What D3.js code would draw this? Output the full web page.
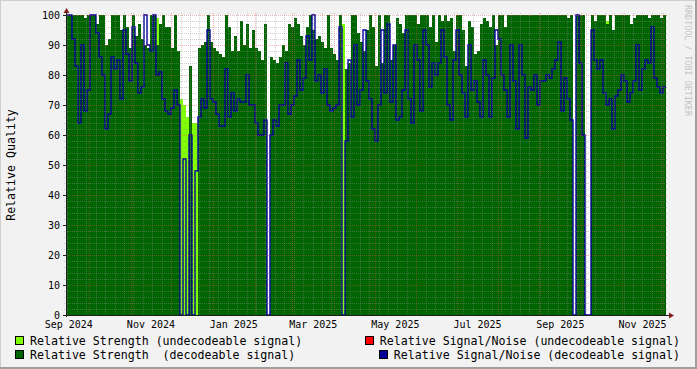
<!DOCTYPE html>
<html><head><meta charset="utf-8">
<script src="https://cdn.jsdelivr.net/npm/d3@7"></script>
<style>html,body{margin:0;padding:0;background:#F2F2F2;overflow:hidden} svg{display:block} text{white-space:pre}</style>
</head><body>
<svg id="c" width="697" height="369"></svg>
<script>
// ---- data (one sample per ~2.2 days) ----
const strengthDecodeable = [
100,100,100,100,100,100,99,100,100,100,
97,100,100,90,92,100,100,100,95,100,
96,89,100,93,97,92,90,89,100,100,
90,97,100,96,96,89,100,88,0,0,
0,83,0,0,89,90,91,100,91,89,
88,87,86,100,96,88,93,88,98,90,
97,89,95,89,88,85,97,0,86,85,
84,86,90,88,97,96,99,97,93,90,
96,100,95,92,93,91,89,100,89,87,
85,100,0,82,84,100,100,94,91,88,
95,100,96,83,100,84,100,100,85,90,
99,97,94,100,100,100,100,97,100,100,
100,96,100,91,100,98,100,98,99,88,
100,100,95,83,98,96,87,88,97,99,
98,96,100,90,100,100,96,100,100,100,
100,100,100,100,100,100,100,100,100,100,
100,100,100,100,100,100,100,99,100,0,
100,100,100,0,0,100,98,100,100,100,
97,100,95,100,100,100,100,100,97,99,
100,100,100,100,99,100,100,100,99,100];

const strengthUndecodeable = [
0,0,0,0,0,0,0,0,0,0,
0,0,0,0,0,0,0,0,0,0,
0,0,0,0,0,0,0,0,0,0,
99,0,0,0,0,0,0,0,72,70,
66,73,64,64,0,0,0,0,0,0,
0,0,0,0,0,0,0,0,0,0,
0,0,0,0,0,0,0,0,0,0,
0,0,0,0,0,0,0,0,0,0,
0,0,0,0,0,0,0,0,0,0,
0,0,97,0,0,0,0,0,0,0,
0,0,0,0,0,0,0,0,0,0,
0,0,0,0,0,0,0,0,0,0,
0,0,0,0,0,0,0,0,0,0,
0,0,0,0,0,0,0,0,0,0,
0,0,0,0,0,0,0,0,0,0,
0,0,0,0,0,0,0,0,0,0,
0,0,0,0,0,0,0,0,0,0,
0,0,0,0,0,0,0,0,0,0,
98,0,0,0,0,0,0,0,0,0,
0,0,0,0,0,0,0,0,0,0];

const snrDecodeable = [
100,100,92,83,64,90,68,75,100,100,
94,86,80,62,67,86,82,85,72,95,
87,78,96,84,74,76,100,90,88,100,
80,81,72,68,67,69,75,70,0,52,
0,60,0,48,66,72,69,95,72,71,
67,63,63,82,66,74,68,72,71,71,
80,70,70,64,60,60,65,0,60,65,
63,70,70,84,67,70,73,85,75,79,
93,85,100,78,80,74,82,70,68,69,
70,96,0,58,85,66,90,70,75,95,
78,72,62,58,70,95,74,97,71,90,
65,66,75,95,72,64,90,85,68,95,
90,76,84,80,84,95,86,70,65,85,
95,80,74,66,90,75,78,71,66,85,
80,66,79,95,92,80,75,66,90,78,
62,90,80,59,76,75,80,70,78,78,
80,79,82,85,91,68,79,72,65,0,
100,84,60,0,0,95,85,82,85,74,
70,72,62,73,75,80,78,71,74,78,
90,75,82,85,84,96,79,76,74,76];

const snrUndecodeable = [];   // nothing visible in the picture

const yTickValues = [0,10,20,30,40,50,60,70,80,90,100];
const monthLabels = ["Sep 2024","Nov 2024","Jan 2025","Mar 2025","May 2025","Jul 2025","Sep 2025","Nov 2025"];
const monthLabelStarts = ["2024-09-01","2024-11-01","2025-01-01","2025-03-01","2025-05-01","2025-07-01","2025-09-01","2025-11-01"];
const legendLeft = ["Relative Strength (undecodeable signal)","Relative Strength  (decodeable signal)"];
const legendRight = ["Relative Signal/Noise (undecodeable signal)","Relative Signal/Noise (decodeable signal)"];

const timeStart = new Date(Date.UTC(2024,8,13,22,6));
const timeEnd   = new Date(Date.UTC(2025,11,3,10,50));

// ---- style ----
const C = {
  lime:"#7FFF00", red:"#FF0000", green:"#006400", blue:"#000099",
  minor:"rgba(143,143,143,0.42)", major:"rgba(222,79,79,0.42)",
  axis:"#1F1F1F", arrow:"#801F1F", bg:"#F2F2F2"
};
const L=66,R=666,T=15,B=315;
const svg = d3.select("#c");
const x = d3.scaleUtc().domain([timeStart,timeEnd]).range([L,R]);
const y = d3.scaleLinear().domain([0,100]).range([B,T]);

const n = strengthDecodeable.length;
const dt = (timeEnd - timeStart)/n;
const toSeries = arr => {
  const s = arr.map((v,i)=>({t:new Date(+timeStart + i*dt), v}));
  s.push({t:timeEnd, v:arr[arr.length-1]});
  return s;
};

// background & 3D border
svg.append("rect").attr("width",697).attr("height",369).attr("fill",C.bg);
svg.append("path").attr("d","M0,368V0H696").attr("fill","none").attr("stroke","#CFCFCF").attr("stroke-width",2);
svg.append("path").attr("d","M0,368H696V0").attr("fill","none").attr("stroke","#9E9E9E").attr("stroke-width",2);
svg.append("rect").attr("x",L).attr("y",T).attr("width",R-L).attr("height",B-T).attr("fill","#fff");

const area = d3.area().x(d=>x(d.t)).y0(y(0)).y1(d=>y(d.v)).curve(d3.curveStepAfter);
const line = d3.line().x(d=>x(d.t)).y(d=>y(d.v)).curve(d3.curveStepAfter);

svg.append("defs").append("clipPath").attr("id","clp")
  .append("rect").attr("x",L).attr("y",T-3).attr("width",R-L).attr("height",B-T+6);
const g = svg.append("g").attr("clip-path","url(#clp)");
g.append("path").datum(toSeries(strengthUndecodeable)).attr("d",area).attr("fill",C.lime);
g.append("path").datum(toSeries(strengthDecodeable)).attr("d",area).attr("fill",C.green);
if (snrUndecodeable.length) g.append("path").datum(toSeries(snrUndecodeable)).attr("d",line).attr("fill","none").attr("stroke",C.red).attr("stroke-width",1.4);
g.append("path").datum(toSeries(snrDecodeable)).attr("d",line).attr("fill","none").attr("stroke",C.blue).attr("stroke-width",1.4);

// grid (drawn over the data, as rrdtool does)
const grid = svg.append("g").attr("stroke-dasharray","1,1").attr("stroke-width",1);
d3.range(0,101,2).filter(v=>v%10!==0).forEach(v=>{
  const yy=Math.round(y(v))+0.5;
  grid.append("line").attr("x1",L-2).attr("x2",R+2).attr("y1",yy).attr("y2",yy).attr("stroke",C.minor);
});
d3.utcSunday.range(timeStart,timeEnd).forEach(d=>{
  if (d.getUTCDate()===1) return;
  const xx=Math.round(x(d))+0.5;
  grid.append("line").attr("x1",xx).attr("x2",xx).attr("y1",T-2).attr("y2",B+2).attr("stroke",C.minor);
});
yTickValues.filter(v=>v>0).forEach(v=>{
  const yy=Math.round(y(v))+0.5;
  grid.append("line").attr("x1",L-2).attr("x2",R+2).attr("y1",yy).attr("y2",yy).attr("stroke",C.major);
});
d3.utcMonth.range(timeStart,timeEnd).forEach(d=>{
  const xx=Math.round(x(d))+0.5;
  grid.append("line").attr("x1",xx).attr("x2",xx).attr("y1",T-2).attr("y2",B+2).attr("stroke",C.major);
});

// axes
svg.append("line").attr("x1",L+0.5).attr("x2",L+0.5).attr("y1",B+2).attr("y2",T-3).attr("stroke",C.axis);
svg.append("line").attr("x1",L-2).attr("x2",R+3).attr("y1",B+0.5).attr("y2",B+0.5).attr("stroke",C.axis);
svg.append("path").attr("d",`M${L+0.5},${T-7}L${L-2.5},${T-2}L${L+3.5},${T-2}Z`).attr("fill",C.arrow);
svg.append("path").attr("d",`M${R+8},${B+0.5}L${R+3},${B-2.5}L${R+3},${B+3.5}Z`).attr("fill",C.arrow);
yTickValues.forEach(v=>{
  svg.append("line").attr("x1",L-3).attr("x2",L).attr("y1",Math.round(y(v))+0.5).attr("y2",Math.round(y(v))+0.5).attr("stroke",C.axis);
});

const mono = "'DejaVu Sans Mono', monospace";
svg.append("g").selectAll("text").data(yTickValues).join("text")
  .attr("x",60).attr("y",v=>y(v)+3.5).attr("text-anchor","end")
  .attr("font-family",mono).attr("font-size",10).attr("fill","#000").text(v=>v);

svg.append("g").selectAll("text").data(monthLabels).join("text")
  .attr("x",(s,i)=>{const d=new Date(monthLabelStarts[i]+"T00:00:00Z");return (x(d)+x(d3.utcMonth.offset(d,1)))/2;})
  .attr("y",328).attr("text-anchor","middle")
  .attr("font-family",mono).attr("font-size",10).attr("fill","#000").text(s=>s);

svg.append("text").attr("transform",`translate(15,${(T+B)/2}) rotate(-90)`)
  .attr("text-anchor","middle").attr("font-family",mono).attr("font-size",11.6).attr("fill","#000")
  .text("Relative Quality");

svg.append("text").attr("transform","translate(685,5) rotate(90)")
  .attr("font-family",mono).attr("font-size",8.4).attr("fill","#C4C4C4")
  .text("RRDTOOL / TOBI OETIKER");

// legend
const legColorsLeft=[C.lime,C.green], legColorsRight=[C.red,C.blue];
[0,1].forEach(r=>{
  const base = 345 + r*14;
  svg.append("rect").attr("x",15.5).attr("y",base-8.5).attr("width",8).attr("height",8)
    .attr("fill",legColorsLeft[r]).attr("stroke","#000");
  svg.append("text").attr("x",30).attr("y",base).attr("font-family",mono).attr("font-size",11.6).text(legendLeft[r]);
  const t = svg.append("text").attr("x",680).attr("y",base).attr("text-anchor","end")
    .attr("font-family",mono).attr("font-size",11.6).text(legendRight[r]);
  const w = t.node().getComputedTextLength();
  svg.append("rect").attr("x",Math.round(680-w-15)+0.5).attr("y",base-8.5).attr("width",8).attr("height",8)
    .attr("fill",legColorsRight[r]).attr("stroke","#000");
});
</script>
</body></html>
